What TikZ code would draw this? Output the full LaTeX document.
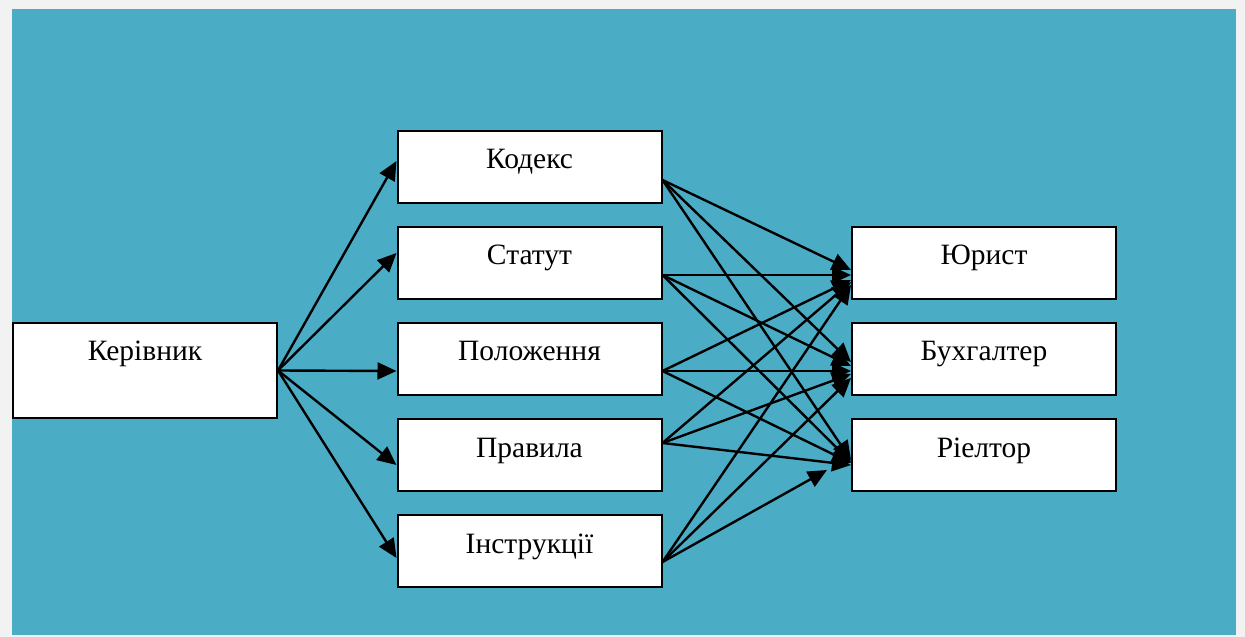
\documentclass[tikz,border=0pt]{standalone}
\usepackage{fontspec}
\setmainfont{Liberation Serif}
\usetikzlibrary{arrows.meta}
\definecolor{bgteal}{HTML}{4BACC6}
\definecolor{outergray}{HTML}{F2F2F2}
\begin{document}
\begin{tikzpicture}[x=1bp,y=-1bp,
  box/.style={draw=black, fill=white, line width=2bp, inner sep=0pt,
    minimum width=264bp, text height=38bp, text depth=34bp,
    font=\fontsize{29.5bp}{31bp}\selectfont},
  bigbox/.style={box, text depth=57bp},
  arr/.style={line width=2.4bp, -{Triangle[length=19bp,width=17bp]}}]
\useasboundingbox (0,0) rectangle (1245,637);
\fill[outergray] (0,0) rectangle (1245,637);
\fill[bgteal] (12,9) rectangle (1236,635);
% nodes
\node[bigbox] (ker) at (145,370.5) {Керівник};
\node[box] (kod) at (529.5,167) {Кодекс};
\node[box] (stat) at (529.5,263) {Статут};
\node[box] (pol) at (529.5,359) {Положення};
\node[box] (prav) at (529.5,455) {Правила};
\node[box] (instr) at (529.5,551) {Інструкції};
\node[box] (yur) at (984,263) {Юрист};
\node[box] (buh) at (984,359) {Бухгалтер};
\node[box] (rie) at (984,455) {Ріелтор};
% left fan
\draw[arr] (ker.east) -- ([yshift=6bp]kod.west);
\draw[arr] (ker.east) -- ([yshift=10bp]stat.west);
\draw[arr] (ker.east) -- ([yshift=-12bp]pol.west);
\draw[arr] (ker.east) -- ([yshift=-10bp]prav.west);
\draw[arr] (ker.east) -- ([yshift=-7bp]instr.west);
% sources
\coordinate (sk) at ([yshift=-13bp]kod.east);
\coordinate (ss) at ([yshift=-12bp]stat.east);
\coordinate (sp) at ([yshift=-12bp]pol.east);
\coordinate (sr) at ([yshift=12bp]prav.east);
\coordinate (si) at ([yshift=-11bp]instr.east);
\coordinate (ishort) at ([xshift=-24bp,yshift=-15bp]rie.west);
% to Юрист
\draw[arr] (sk) -- ([yshift=-7bp]yur.west);
\draw[arr] (ss) -- ([yshift=-12bp]yur.west);
\draw[arr] (sp) -- ([yshift=-17bp]yur.west);
\draw[arr] (sr) -- ([yshift=-19bp]yur.west);
\draw[arr] (si) -- ([yshift=-22bp]yur.west);
% to Бухгалтер
\draw[arr] (sk) -- ([yshift=-3bp]buh.west);
\draw[arr] (ss) -- ([yshift=-7bp]buh.west);
\draw[arr] (sp) -- ([yshift=-12bp]buh.west);
\draw[arr] (sr) -- ([yshift=-15bp]buh.west);
\draw[arr] (si) -- ([yshift=-19bp]buh.west);
% to Ріелтор
\draw[arr] (sk) -- ([yshift=-5bp]rie.west);
\draw[arr] (ss) -- ([yshift=-7bp]rie.west);
\draw[arr] (sp) -- ([yshift=-8bp]rie.west);
\draw[arr] (sr) -- ([yshift=-10bp]rie.west);
\draw[arr] (si) -- (ishort);
\end{tikzpicture}
\end{document}
